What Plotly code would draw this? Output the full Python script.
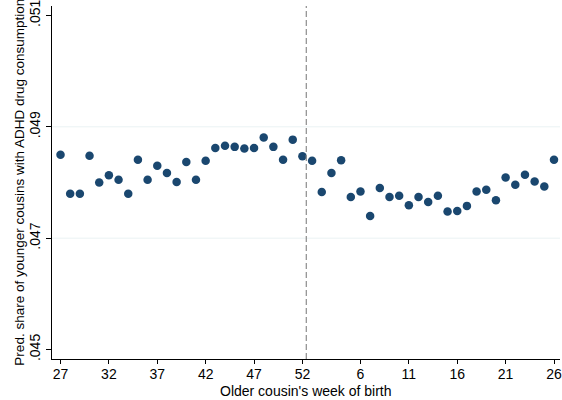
import plotly.graph_objects as go

# Week of birth of the older cousin, in the order shown (27..52 then 1..26)
weeks = list(range(27, 53)) + list(range(1, 27))

# Predicted share of younger cousins with ADHD drug consumption
pred_share = [
    0.04850, 0.04780, 0.04780, 0.04848, 0.04800, 0.04813, 0.04805, 0.04780,
    0.04841, 0.04805, 0.04830, 0.04817, 0.04801, 0.04837, 0.04805, 0.04839,
    0.04862, 0.04866, 0.04864, 0.04861, 0.04862, 0.04881, 0.04864, 0.04841,
    0.04877, 0.04847,
    0.04839, 0.04783, 0.04817, 0.04840, 0.04774, 0.04784, 0.04740, 0.04790,
    0.04774, 0.04776, 0.04759, 0.04774, 0.04765, 0.04776, 0.04748, 0.04749,
    0.04758, 0.04784, 0.04787, 0.04768, 0.04809, 0.04796, 0.04814, 0.04802,
    0.04793, 0.04841,
]

x_ticks_weeks = [27, 32, 37, 42, 47, 52, 6, 11, 16, 21, 26]
y_ticks = [0.045, 0.047, 0.049, 0.051]
y_tick_text = [".045", ".047", ".049", ".051"]
gridline_values = [0.047, 0.049]
cutoff = 52.4

x_title = "Older cousin's week of birth"
y_title = "Pred. share of younger cousins with ADHD drug consumption"

# plot-area geometry in pixels
W, H = 562, 400
ML, MR, MT, MB = 52, 0, 6, 41
PW, PH = W - ML - MR, H - MT - MB


def pos(w):
    # continuous position: weeks 1..26 follow week 52
    return w if w >= 27 else w + 52


def px_to_paper_x(px):
    return (px - ML) / PW


def px_to_paper_y(py):
    return (H - MB - py) / PH


x_pos = [pos(w) for w in weeks]

fig = go.Figure()
fig.add_trace(go.Scatter(
    x=x_pos, y=pred_share, mode="markers",
    marker=dict(color="#1a476f", size=8.5, line=dict(width=0)),
    showlegend=False, cliponaxis=False,
))

for g in gridline_values:
    fig.add_shape(type="line", xref="paper", x0=0, x1=1, yref="y", y0=g, y1=g,
                  line=dict(color="#eaf2f3", width=1), layer="below")

fig.add_shape(type="line", xref="x", x0=cutoff, x1=cutoff, yref="paper", y0=0, y1=1,
              line=dict(color="#8c8c8c", width=1.2, dash="6px,3px"))

font = "Liberation Sans, Arial, sans-serif"

fig.add_annotation(
    text=x_title, showarrow=False, xref="paper", yref="paper",
    x=0.5, y=px_to_paper_y(381), xanchor="center", yanchor="top",
    font=dict(size=14, color="black"),
)
fig.add_annotation(
    text=y_title, showarrow=False, xref="paper", yref="paper", textangle=-90,
    x=px_to_paper_x(19), y=px_to_paper_y(368), xanchor="center", yanchor="bottom",
    font=dict(size=13.5, color="black"),
)

fig.update_layout(
    width=W, height=H,
    margin=dict(l=ML, r=MR, t=MT, b=MB),
    paper_bgcolor="white", plot_bgcolor="white",
    font=dict(family=font, size=14, color="black"),
    xaxis=dict(
        range=[26.12, 78.62],
        tickvals=[pos(w) for w in x_ticks_weeks],
        ticktext=[str(w) for w in x_ticks_weeks],
        ticks="outside", ticklen=4, tickwidth=1, tickcolor="black",
        ticklabelstandoff=-2, ticklabeloverflow="allow",
        showline=True, linecolor="black", linewidth=1.2,
        showgrid=False, zeroline=False,
        tickfont=dict(size=14),
    ),
    yaxis=dict(
        range=[0.04483, 0.05117],
        tickvals=y_ticks, ticktext=y_tick_text, tickangle=-90,
        ticks="outside", ticklen=5, tickwidth=1, tickcolor="black",
        ticklabeloverflow="allow",
        showline=True, linecolor="black", linewidth=1.2,
        showgrid=False, zeroline=False,
        tickfont=dict(size=14),
    ),
)

fig.write_html("out.html")
